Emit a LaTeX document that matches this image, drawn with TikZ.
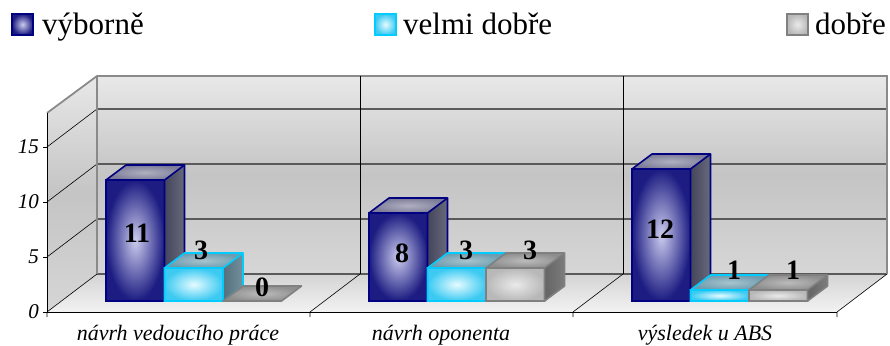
\documentclass[tikz,border=0pt]{standalone}
\usepackage{fontspec}
\setmainfont{Liberation Serif}
\newfontfamily\chartfont{Liberation Serif}
\usetikzlibrary{positioning}

\definecolor{blueedge}{HTML}{000080}
\definecolor{bluein}{HTML}{CCCCEE}
\definecolor{blueout}{HTML}{1C1C82}
\definecolor{blueside}{HTML}{44445C}
\definecolor{bluesidel}{HTML}{6A6A7C}
\definecolor{bluetop}{HTML}{7C7C98}
\definecolor{cyanedge}{HTML}{00CCFF}
\definecolor{cyanin}{HTML}{E6FBFF}
\definecolor{cyanout}{HTML}{3CCAF2}
\definecolor{cyanside}{HTML}{56707E}
\definecolor{cyansidel}{HTML}{74909C}
\definecolor{cyantop}{HTML}{6E9CAE}
\definecolor{grayedge}{HTML}{808080}
\definecolor{grayin}{HTML}{EAEAEA}
\definecolor{grayout}{HTML}{B8B8B8}
\definecolor{grayside}{HTML}{646464}
\definecolor{graysidel}{HTML}{7C7C7C}
\definecolor{graytop}{HTML}{8E8E8E}
\definecolor{wallgrid}{HTML}{5A5A5A}
\definecolor{walledge}{HTML}{8A8A8A}

% one 3D column: left x, value, colour prefix
\newcommand{\drawbar}[3]{%
  \pgfmathsetmacro\barh{11*#2}
  \ifnum#2>0
  \shade[inner color=#3in, outer color=#3out]
    (#1,301) rectangle ({#1+58.5},{301-\barh});
  \shade[left color=#3side, right color=#3sidel]
    ({#1+58.5},301) -- ({#1+78.5},286) -- ({#1+78.5},{286-\barh})
    -- ({#1+58.5},{301-\barh}) -- cycle;
  \draw[#3edge, line width=1.6pt] (#1,301) rectangle ({#1+58.5},{301-\barh})
    ({#1+58.5},301) -- ({#1+78.5},286) -- ({#1+78.5},{286-\barh});
  \fi
  \shade[inner color=#3top!60!white, outer color=#3top]
    (#1,{301-\barh}) -- ({#1+20},{286-\barh}) -- ({#1+78.5},{286-\barh})
    -- ({#1+58.5},{301-\barh}) -- cycle;
  \draw[#3edge, line width=1.6pt, line join=round]
    (#1,{301-\barh}) -- ({#1+20},{286-\barh}) -- ({#1+78.5},{286-\barh})
    -- ({#1+58.5},{301-\barh}) -- cycle;
}

\begin{document}
\begin{tikzpicture}[x=1pt, y=-1pt]
    \tikzset{barlabel/.style= {font=\chartfont\fontsize{28}{28}\selectfont\bfseries
    , inner sep=0pt
      }
    , ticklabel/.style= {font=\chartfont\fontsize{21}{21}\selectfont\itshape
    , anchor=east, inner sep=0pt
      }
    , catlabel/.style= {font=\chartfont\fontsize{22}{22}\selectfont\itshape
    , inner sep=0pt
      }
    , legendtext/.style= {font=\chartfont\fontsize{31}{31}\selectfont
    , inner sep=0pt, anchor=base west
      }
    , legendbox/.style= {minimum size=21pt, inner sep=0pt, line width=1.6pt
      }
    }
\useasboundingbox (0,0) rectangle (890,345);

% walls and floor
\shade[top color=black!9, bottom color=black!16, middle color=black!23]
  (97,76) rectangle (887,274);
\shade[top color=black!9, bottom color=black!16, middle color=black!23]
  (47,113) -- (97,76) -- (97,274) -- (47,312) -- cycle;
\shade[top color=black!17, bottom color=black!5]
  (47,312) -- (97,274) -- (887,274) -- (837,312) -- cycle;

\foreach \k in {0,1,2,3}
  \draw[wallgrid, line width=1.2pt] (97,{274-55*\k}) -- (887,{274-55*\k});
\foreach \k in {1,2,3}
  \draw[black, line width=0.6pt] (47,{312-55*\k}) -- (97,{274-55*\k});
\draw[walledge, line width=1.8pt] (47,113) -- (97,76) -- (887,76) -- (887,274);
\draw[walledge, line width=1.8pt] (97,76) -- (97,274);
\foreach \x in {360,623}
  \draw[black, line width=0.6pt] (\x,76) -- (\x,274);
\foreach \x in {47,310,573,837}
  \draw[black, line width=0.6pt] (\x,312) -- ({\x+50},274) (\x,312) -- (\x,317);
\draw[black, line width=0.8pt] (47,113) -- (47,312) -- (837,312);

% y axis
\foreach \v/\y in {0/312,5/257,10/202,15/147} {
  \draw[black, line width=0.6pt] (43,\y) -- (47,\y);
  \node[ticklabel] (tick\v) at (39,\y) {\v};
}

% columns
\drawbar{106}{11}{blue}
\drawbar{164.5}{3}{cyan}
\drawbar{223}{0}{gray}
\drawbar{369}{8}{blue}
\drawbar{427.5}{3}{cyan}
\drawbar{486}{3}{gray}
\drawbar{632}{12}{blue}
\drawbar{690.5}{1}{cyan}
\drawbar{749}{1}{gray}

\node[barlabel] (vedA) at (137,233) {11};
\node[barlabel] (vedB) at (201,250) {3};
\node[barlabel] (vedC) at (262,287) {0};
\node[barlabel] (oppA) at (402,253) {8};
\node[barlabel] (oppB) at (466,250) {3};
\node[barlabel] (oppC) at (530,250) {3};
\node[barlabel] (absA) at (660,229) {12};
\node[barlabel] (absB) at (734,270) {1};
\node[barlabel] (absC) at (793,270) {1};

\node[catlabel] (catA) at (178,335) {návrh vedoucího práce};
\node[catlabel] (catB) at (441,335) {návrh oponenta};
\node[catlabel] (catC) at (705,335) {výsledek u ABS};

% legend
\node[legendbox, draw=blueedge, inner color=bluein, outer color=blueout]
  (keyA) at (22.5,24.5) {};
\node[legendtext] (txtA) at (42,35) {výborně};
\node[legendbox, draw=cyanedge, inner color=cyanin, outer color=cyanout]
  (keyB) at (385.5,24.5) {};
\node[legendtext] (txtB) at (403,35) {velmi dobře};
\node[legendbox, draw=grayedge, inner color=grayin, outer color=grayout]
  (keyC) at (797.5,24.5) {};
\node[legendtext] (txtC) at (815,35) {dobře};
\end{tikzpicture}
\end{document}
